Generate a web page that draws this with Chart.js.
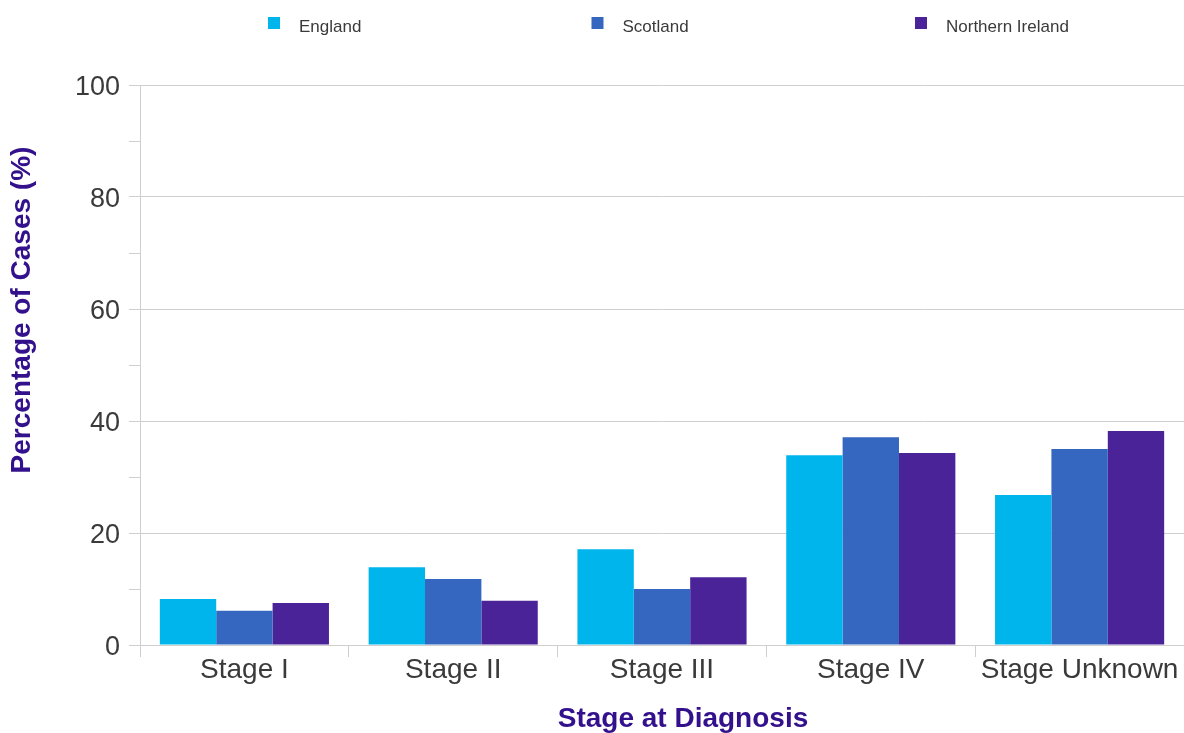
<!DOCTYPE html>
<html>
<head>
<meta charset="utf-8">
<script src="https://cdn.jsdelivr.net/npm/chart.js@4"></script>
<style>
  html, body { margin: 0; padding: 0; background: #fff; }
  #wrap { width: 1184px; height: 733px; }
</style>
</head>
<body>
<div id="wrap"><canvas id="chart"></canvas></div>
<script>
// Stage at diagnosis, % of cases by nation
const stages = ['Stage I', 'Stage II', 'Stage III', 'Stage IV', 'Stage Unknown'];
const england = [8.2, 13.9, 17.1, 33.9, 26.8];
const scotland = [6.1, 11.8, 10.0, 37.1, 35.0];
const northernIreland = [7.5, 7.9, 12.1, 34.3, 38.2];
const seriesNames = ['England', 'Scotland', 'Northern Ireland'];
const seriesColors = ['#00b5ec', '#3567c0', '#4b2399'];

const FONT = '"Liberation Sans", Arial, sans-serif';
const TITLE_COLOR = '#33108c';
const TEXT_COLOR = '#3a3a3a';
const GRID = '#cfcfcf';

// legend items are laid out on a fixed pitch, like the original
const fixedLegend = {
    id: 'fixedLegend',
    afterDraw(chart) {
        const ctx = chart.ctx;
        ctx.save();
        ctx.font = '17px ' + FONT;
        ctx.textBaseline = 'middle';
        chart.data.datasets.forEach((ds, i) => {
            const x = 268 + i * 323.5;
            ctx.fillStyle = ds.backgroundColor;
            ctx.fillRect(x, 17, 12, 12);
            ctx.fillStyle = TEXT_COLOR;
            ctx.fillText(ds.label, x + 31, 27);
        });
        ctx.restore();
    }
};

// axis titles sit off-centre in the original, so draw them by hand
const axisTitles = {
    id: 'axisTitles',
    afterDraw(chart) {
        const ctx = chart.ctx;
        ctx.save();
        ctx.fillStyle = TITLE_COLOR;
        ctx.font = 'bold 28px ' + FONT;
        ctx.textAlign = 'center';
        ctx.textBaseline = 'middle';
        ctx.fillText('Stage at Diagnosis', 683, 719);
        ctx.translate(22, 310);
        ctx.rotate(-Math.PI / 2);
        ctx.fillText('Percentage of Cases (%)', 0, 0);
        ctx.restore();
    }
};

const datasets = [england, scotland, northernIreland].map((values, i) => ({
    label: seriesNames[i],
    data: values,
    backgroundColor: seriesColors[i],
    borderWidth: 0,
    categoryPercentage: 0.81,
    barPercentage: 1
}));

new Chart(document.getElementById('chart'), {
    type: 'bar',
    data: { labels: stages, datasets: datasets },
    plugins: [fixedLegend, axisTitles],
    options: {
        responsive: true,
        maintainAspectRatio: false,
        animation: false,
        layout: { padding: { top: 85, left: 0, right: 0, bottom: 0 } },
        plugins: {
            tooltip: { enabled: false },
            legend: { display: false }
        },
        scales: {
            x: {
                grid: {
                    offset: true,
                    drawOnChartArea: false,
                    color: GRID,
                    tickLength: 12
                },
                border: { color: GRID },
                ticks: {
                    color: TEXT_COLOR,
                    font: { family: FONT, size: 28 },
                    padding: -4,
                    maxRotation: 0
                },
                afterFit(scale) { scale.height = 88; }
            },
            y: {
                min: 0,
                max: 100,
                grid: {
                    color: ctx => (ctx.tick && ctx.tick.value % 20 === 0) ? GRID : 'rgba(0,0,0,0)',
                    tickColor: GRID,
                    tickLength: 11
                },
                border: { color: GRID },
                ticks: {
                    stepSize: 10,
                    autoSkip: false,
                    color: TEXT_COLOR,
                    font: { family: FONT, size: 27 },
                    padding: 9,
                    labelOffset: 3,
                    callback: v => (v % 20 === 0 ? v : '')
                },
                afterFit(scale) { scale.width = 140; }
            }
        }
    }
});
</script>
</body>
</html>
